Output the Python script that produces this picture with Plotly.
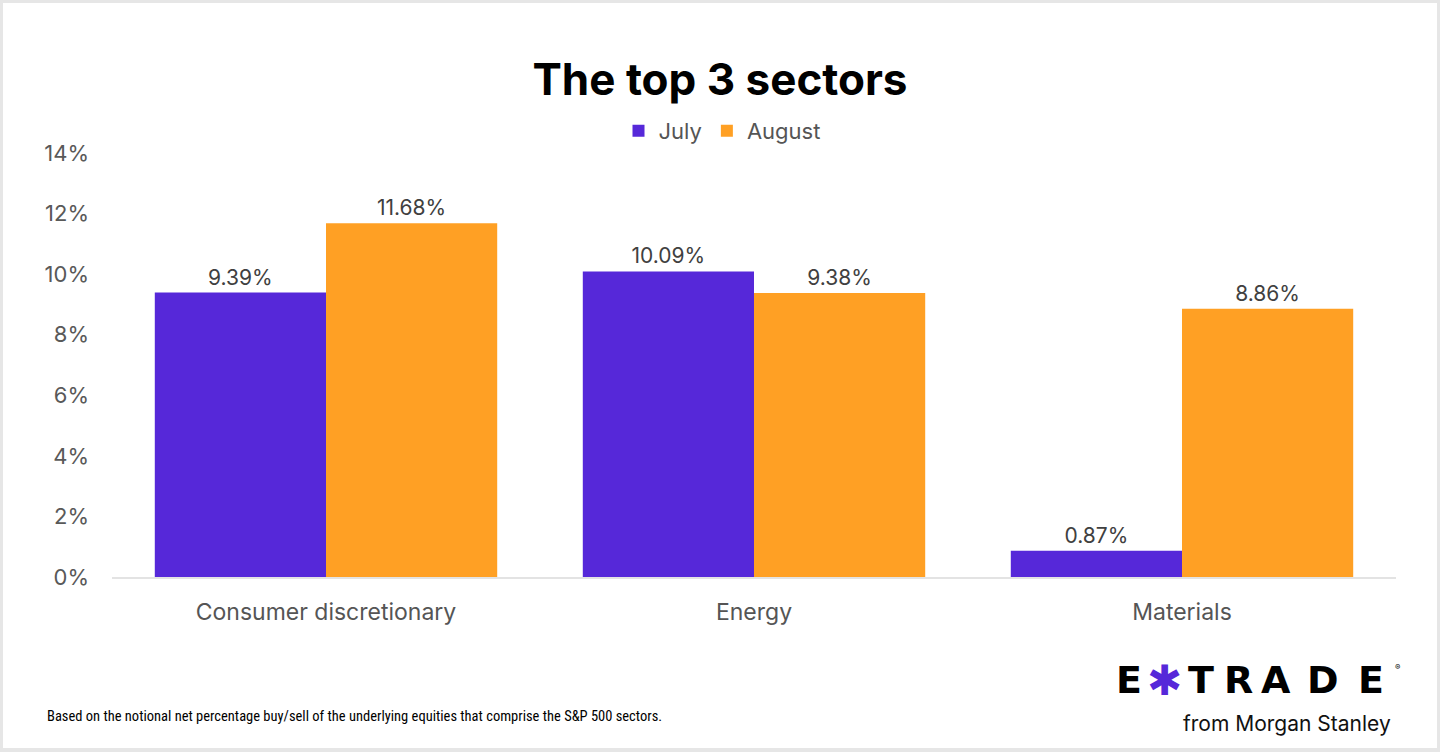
"""E*TRADE top 3 sectors bar chart"""
import plotly.graph_objects as go

# data
categories = ["Consumer discretionary", "Energy", "Materials"]
july = [9.39, 10.09, 0.87]
august = [11.68, 9.38, 8.86]
y_ticks = [0, 2, 4, 6, 8, 10, 12, 14]

PURPLE = "#5628d9"
ORANGE = "#ffa024"
W, H = 1440, 752
ML, MR, MT, MB = 112, 44, 153, 175
PW, PH = W - ML - MR, H - MT - MB


def px(x):
    """pixel x -> paper x"""
    return (x - ML) / PW


def py(y):
    """pixel y (from top) -> paper y"""
    return (H - MB - y) / PH


fig = go.Figure()
for name, vals, color in (("July", july, PURPLE), ("August", august, ORANGE)):
    fig.add_bar(
        x=categories,
        y=vals,
        name=name,
        marker_color=color,
        marker_line_width=0,
        texttemplate="%{y:.2f}%",
        textposition="outside",
        textfont={"size": 21, "color": "#404040"},
        cliponaxis=False,
    )

fig.update_layout(
    width=W,
    height=H,
    margin={"l": ML, "r": MR, "t": MT, "b": MB, "autoexpand": False},
    paper_bgcolor="#e6e6e6",
    plot_bgcolor="white",
    font={"family": "Inter, Roboto, sans-serif", "color": "#555555"},
    barmode="group",
    bargap=0.2,
    bargroupgap=0,
    title={
        "text": "<b>The top 3 sectors</b>",
        "font": {"size": 44, "color": "black"},
        "x": 0.5,
        "xref": "container",
        "xanchor": "center",
        "y": 1 - 80 / H,
        "yref": "container",
        "yanchor": "middle",
    },
    legend={
        "orientation": "h",
        "x": px(722),
        "xref": "paper",
        "xanchor": "center",
        "y": py(131),
        "yref": "paper",
        "yanchor": "middle",
        "font": {"size": 22, "color": "#555555"},
        "bgcolor": "rgba(0,0,0,0)",
        "itemwidth": 30,
        "traceorder": "normal",
    },
    showlegend=True,
)
fig.update_yaxes(
    range=[0, 14],
    tickvals=y_ticks,
    ticktext=[f"{v}%" for v in y_ticks],
    showgrid=False,
    zeroline=False,
    showline=False,
    tickfont={"size": 22, "color": "#595959"},
    ticklabelstandoff=22,
)
fig.update_xaxes(
    showline=True,
    linecolor="#e3e3e3",
    linewidth=1.5,
    showgrid=False,
    tickfont={"size": 23, "color": "#555555"},
    ticklabelstandoff=14,
)

# white card with grey frame
fig.add_shape(
    type="rect", xref="paper", yref="paper", layer="below",
    x0=px(3), x1=px(W - 3), y0=py(H - 4), y1=py(3),
    fillcolor="white", line_width=0,
)

# footnote
fig.add_annotation(
    text="Based on the notional net percentage buy/sell of the underlying "
    "equities that comprise the S&P 500 sectors.",
    xref="paper", yref="paper", x=px(45), y=py(716),
    xanchor="left", yanchor="middle", showarrow=False,
    font={"family": "Liberation Sans Narrow, Roboto Condensed, Arial Narrow, sans-serif",
          "size": 14.5, "color": "black"},
)

# logo
logo_letters = ["E", "✱", "T", "R", "A", "D", "E"]
logo_x = [1129, 1164, 1201, 1238, 1276, 1323, 1371]
for ch, lx in zip(logo_letters, logo_x):
    fig.add_annotation(
        text=f"<b>{ch}</b>",
        xref="paper", yref="paper", x=px(lx), y=py(680),
        xanchor="center", yanchor="middle", showarrow=False,
        font={"family": "DejaVu Sans, sans-serif",
              "size": 42 if ch == "✱" else 38,
              "color": PURPLE if ch == "✱" else "black"},
    )
fig.add_annotation(
    text="®", xref="paper", yref="paper", x=px(1397), y=py(667),
    xanchor="center", yanchor="middle", showarrow=False,
    font={"size": 8, "color": "black"},
)
fig.add_annotation(
    text="from Morgan Stanley",
    xref="paper", yref="paper", x=px(1393), y=py(723),
    xanchor="right", yanchor="middle", showarrow=False,
    font={"family": "Inter, Roboto, sans-serif", "size": 21, "color": "#111111"},
)

fig.write_html(
    "out.html",
    config={"displayModeBar": False},
    post_script="document.body.style.margin='0px';",
)
